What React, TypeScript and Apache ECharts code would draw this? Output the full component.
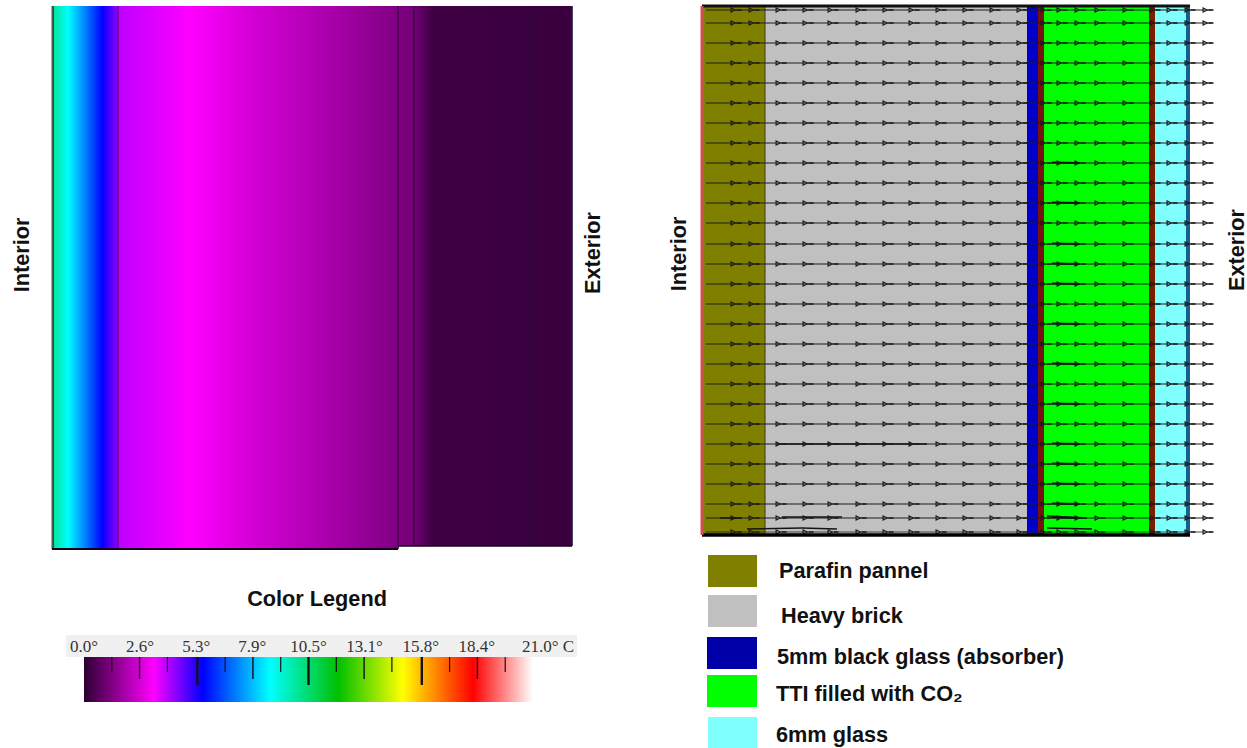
import React, { useEffect, useRef } from "react";
import * as echarts from "echarts";

// ---- temperature colour scale
const scaleTemps = [0, 3.26, 5.56, 8.7, 11.9, 14.9, 18.2, 21];
const scaleColors = ["#2c0030", "#ff00ff", "#0000ff", "#00ffff", "#00c000", "#ffff00", "#ff0000", "#ffffff"];
const tickLabels = ["0.0°", "2.6°", "5.3°", "7.9°", "10.5°", "13.1°", "15.8°", "18.4°", "21.0° C"];
const minorTicks = [1.3, 2.6, 3.9, 5.3, 6.6, 7.9, 9.2, 10.5, 11.8, 13.1, 14.4, 15.8, 17.1, 18.4, 19.7];
const minorTickDepth = [15, 22, 15, 28, 15, 22, 15, 28, 15, 22, 15, 28, 15, 22, 15];

// ---- left panel: temperature through the wall
const wallPos = [1, 16, 50, 66, 66, 138, 200, 260, 346, 362, 380, 520];
const wallTemp = [10, 8.7, 5.56, 4.2, 3.85, 3.26, 2.6, 2.1, 1.3, 1.1, 0.3, 0.2];
const wallFloor = [0, 0, 0, 0, 0, 0, 0, 0, 3, 3, 3, 3];
const wallJoints = [1, 66, 346, 362, 479, 520];

// ---- right panel: layers and flow field
const layerStart = [0, 63, 325, 336, 342, 447, 453, 484];
const layerEnd = [63, 325, 336, 342, 447, 453, 484, 488];
const layerColors = ["#808000", "#c0c0c0", "#0000c8", "#7a1010", "#00ff00", "#7a1e00", "#80ffff", "#14608c"];
const flowRows = [4, 17, 37, 57, 77, 97, 117, 137, 157, 177, 197, 217, 238, 258, 278, 298, 318, 338, 358, 378, 398, 418, 438, 458, 478, 498, 512, 526];
const arrowStations = [34, 52, 79, 106, 131, 159, 186, 212, 239, 266, 293, 320, 344, 360, 378, 398, 426, 453, 470, 488, 506];
const ttiSmearRows = [157, 197, 238, 258, 278, 318, 358, 398, 438, 458, 478, 498, 512];
const lowSmears = [
  [[18, 512], [40, 512]],
  [[75, 438], [225, 438]],
  [[80, 511], [140, 511]],
  [[45, 523], [100, 522]],
  [[100, 522], [135, 523]],
  [[345, 510], [385, 512]],
  [[345, 522], [390, 523]],
];

// ---- legend
const legendNames = ["Parafin pannel", "Heavy brick", "5mm black glass (absorber)", "TTI filled with CO₂", "6mm glass"];
const legendColors = ["#808000", "#c0c0c0", "#0000a8", "#00ff00", "#80ffff"];

function hexToRgb(h: string) {
  return [parseInt(h.slice(1, 3), 16), parseInt(h.slice(3, 5), 16), parseInt(h.slice(5, 7), 16)];
}
function tempColor(t: number) {
  let i = 0;
  while (i < scaleTemps.length - 2 && t > scaleTemps[i + 1]) i++;
  const f = Math.max(0, Math.min(1, (t - scaleTemps[i]) / (scaleTemps[i + 1] - scaleTemps[i])));
  const a = hexToRgb(scaleColors[i]);
  const b = hexToRgb(scaleColors[i + 1]);
  return `rgb(${a.map((v, k) => Math.round(v + (b[k] - v) * f)).join(",")})`;
}

const boldFont = "Liberation Sans";
const ARROW =
  "path://M0 0L6 3L0 6ZM1.2 1.7L1.2 4.3L3.8 3ZM6 2.2L11 2.2L11 3.8L6 3.8Z";

function rectBetween(api: any, x0: number, x1: number, y0: number, y1: number) {
  const a = api.coord([x0, y0]);
  const b = api.coord([x1, y1]);
  return {
    x: Math.min(a[0], b[0]),
    y: Math.min(a[1], b[1]),
    width: Math.abs(b[0] - a[0]),
    height: Math.abs(b[1] - a[1]),
  };
}

function buildOption() {
  const strips = wallPos.slice(0, -1).map((p, i) => [p, wallPos[i + 1], wallTemp[i], wallTemp[i + 1], wallFloor[i]]);
  const series: any[] = [];

  // left panel strips
  series.push({
    type: "custom",
    name: "Wall temperature",
    xAxisIndex: 0,
    yAxisIndex: 0,
    silent: true,
    clip: false,
    data: strips,
    z: 1,
    renderItem: (_: any, api: any) => {
      const r = rectBetween(api, api.value(0), api.value(1), api.value(4), 543);
      return {
        type: "rect",
        shape: { ...r, width: r.width + 0.6 },
        style: {
          fill: new echarts.graphic.LinearGradient(0, 0, 1, 0, [
            { offset: 0, color: tempColor(api.value(2)) },
            { offset: 1, color: tempColor(api.value(3)) },
          ]),
        },
      };
    },
  });
  // left panel joints
  series.push({
    type: "custom",
    name: "Wall joints",
    xAxisIndex: 0,
    yAxisIndex: 0,
    silent: true,
    clip: false,
    data: wallJoints.map((p) => [p]),
    z: 2,
    renderItem: (params: any, api: any) => {
      const x = api.value(0);
      const i = params.dataIndex;
      const floor = x > 346 ? 3 : 0;
      const a = api.coord([x, floor]);
      const b = api.coord([x, 543]);
      const colors = ["#203030", "#401050", "#30052f", "#2a0a2f", "#2a0a30", "#10204c"];
      return {
        type: "line",
        shape: { x1: a[0], y1: a[1], x2: b[0], y2: b[1] },
        style: { stroke: colors[i], lineWidth: i === 0 ? 1.6 : 1 },
      };
    },
  });
  // left panel bottom rules and left pale edge
  series.push({
    type: "line",
    name: "Wall base A",
    xAxisIndex: 0,
    yAxisIndex: 0,
    data: [[0, 0], [346, 0]],
    symbol: "none",
    silent: true,
    clip: false,
    z: 3,
    lineStyle: { color: "#14001c", width: 2 },
  });
  series.push({
    type: "line",
    name: "Wall base B",
    xAxisIndex: 0,
    yAxisIndex: 0,
    data: [[346, 3], [520, 3]],
    symbol: "none",
    silent: true,
    clip: false,
    z: 3,
    lineStyle: { color: "#14001c", width: 1.6 },
  });
  series.push({
    type: "line",
    name: "Wall inner face",
    xAxisIndex: 0,
    yAxisIndex: 0,
    data: [[-0.6, 0], [-0.6, 543]],
    symbol: "none",
    silent: true,
    clip: false,
    z: 3,
    lineStyle: { color: "#d89890", width: 1.2 },
  });

  // right panel layers
  series.push({
    type: "custom",
    name: "Layers",
    xAxisIndex: 1,
    yAxisIndex: 1,
    silent: true,
    clip: false,
    data: layerStart.map((s, i) => [s, layerEnd[i]]),
    z: 1,
    renderItem: (params: any, api: any) => ({
      type: "rect",
      shape: rectBetween(api, api.value(0), api.value(1), 0, 529),
      style: { fill: layerColors[params.dataIndex] },
    }),
  });
  // parafin / brick joint
  series.push({
    type: "line",
    name: "Joint",
    xAxisIndex: 1,
    yAxisIndex: 1,
    data: [[63, 0], [63, 529]],
    symbol: "none",
    silent: true,
    clip: false,
    z: 2,
    lineStyle: { color: "#3a3a20", width: 1 },
  });
  // flow lines
  flowRows.forEach((r, i) => {
    series.push({
      type: "line",
      name: "Flow " + i,
      xAxisIndex: 1,
      yAxisIndex: 1,
      data: [[4, r], [510, r]],
      symbol: "none",
      silent: true,
      clip: false,
      z: 3,
      lineStyle: { color: "#1c1c1c", width: i === flowRows.length - 1 ? 0.8 : 1.2 },
    });
  });
  ttiSmearRows.forEach((r, i) => {
    series.push({
      type: "line",
      name: "TTI smear " + i,
      xAxisIndex: 1,
      yAxisIndex: 1,
      data: [[350, r - 0.5], [378, r]],
      symbol: "none",
      silent: true,
      clip: false,
      z: 3,
      lineStyle: { color: "#141414", width: 2 },
    });
  });
  lowSmears.forEach((d, i) => {
    series.push({
      type: "line",
      name: "Low smear " + i,
      xAxisIndex: 1,
      yAxisIndex: 1,
      data: d,
      symbol: "none",
      silent: true,
      clip: false,
      z: 3,
      lineStyle: { color: "#141414", width: 1.4 },
    });
  });
  // arrows
  const arrowPts: number[][] = [];
  flowRows.forEach((r) => arrowStations.forEach((x) => arrowPts.push([x, r])));
  series.push({
    type: "scatter",
    name: "Flow arrows",
    xAxisIndex: 1,
    yAxisIndex: 1,
    data: arrowPts,
    symbol: ARROW,
    symbolSize: [11, 6],
    silent: true,
    clip: false,
    z: 4,
    itemStyle: { color: "#1a1a1a", opacity: 1 },
  });
  // frame
  const frames: [string, number[][], string, number][] = [
    ["Frame top", [[0, 0], [488, 0]], "#101010", 3],
    ["Frame bottom", [[0, 529], [488, 529]], "#000000", 3.5],
    ["Frame left", [[0, 0], [0, 529]], "#d05050", 3],
  ];
  frames.forEach(([name, data, color, width]) => {
    series.push({
      type: "line",
      name,
      xAxisIndex: 1,
      yAxisIndex: 1,
      data,
      symbol: "none",
      silent: true,
      clip: false,
      z: 5,
      lineStyle: { color, width },
    });
  });

  // colour bar
  series.push({
    type: "custom",
    name: "Colour bar",
    xAxisIndex: 2,
    yAxisIndex: 2,
    silent: true,
    clip: false,
    data: [[0, 21]],
    z: 1,
    renderItem: (_: any, api: any) => ({
      type: "rect",
      shape: rectBetween(api, api.value(0), api.value(1), 0, 45),
      style: {
        fill: new echarts.graphic.LinearGradient(
          0,
          0,
          1,
          0,
          scaleTemps.map((t, i) => ({ offset: t / 21, color: scaleColors[i] }))
        ),
      },
    }),
  });
  series.push({
    type: "custom",
    name: "Colour bar ticks",
    xAxisIndex: 2,
    yAxisIndex: 2,
    silent: true,
    clip: false,
    data: minorTicks.map((t, i) => [t, minorTickDepth[i]]),
    z: 2,
    renderItem: (_: any, api: any) => {
      const a = api.coord([api.value(0), 0]);
      const b = api.coord([api.value(0), api.value(1)]);
      return {
        type: "line",
        shape: { x1: a[0], y1: a[1], x2: b[0], y2: b[1] },
        style: { stroke: "#181018", lineWidth: api.value(1) > 25 ? 2.4 : api.value(1) > 18 ? 1.4 : 1.2 },
      };
    },
  });

  const hiddenX = (min: number, max: number, gridIndex: number) => ({
    type: "value",
    gridIndex,
    min,
    max,
    show: false,
    splitLine: { show: false },
  });
  const hiddenY = (min: number, max: number, gridIndex: number, inverse: boolean) => ({
    type: "value",
    gridIndex,
    min,
    max,
    inverse,
    show: false,
    splitLine: { show: false },
  });

  const wallText = (text: string, x: number, y: number) => ({
    type: "text",
    x,
    y,
    rotation: Math.PI / 2,
    style: {
      text,
      fill: "#111",
      font: `bold 21.7px "${boldFont}"`,
      align: "center",
      verticalAlign: "middle",
    },
  });

  const swatchY = [555, 595, 637, 675, 717];
  const swatchX = [708, 708, 707, 707, 708];
  const swatchH = [32, 32, 32, 32, 31];
  const labelX = [779, 781, 777, 776, 776];
  const labelY = [570, 615, 656, 693, 734];

  return {
    animation: false,
    backgroundColor: "#ffffff",
    grid: [
      { left: 52, top: 6, width: 520, height: 543 },
      { left: 702, top: 6, width: 510, height: 529 },
      { left: 84, top: 657, width: 449, height: 45 },
    ],
    xAxis: [
      hiddenX(0, 520, 0),
      hiddenX(0, 510, 1),
      {
        type: "value",
        gridIndex: 2,
        position: "top",
        min: 0,
        max: 21,
        interval: 2.625,
        axisLine: { show: false },
        axisTick: { show: false },
        splitLine: { show: false },
        axisLabel: {
          show: true,
          showMinLabel: true,
          showMaxLabel: true,
          margin: 2,
          color: "#333",
          fontFamily: "Liberation Serif",
          fontSize: 17,
          formatter: (v: number) => {
            const i = Math.round(v / 2.625);
            return i === tickLabels.length - 1 ? `{last|${tickLabels[i]}}` : tickLabels[i];
          },
          rich: {
            last: { padding: [0, 0, 0, 30], fontFamily: "Liberation Serif", fontSize: 17, color: "#333" },
          },
        },
      },
    ],
    yAxis: [hiddenY(0, 543, 0, false), hiddenY(0, 529, 1, true), hiddenY(0, 45, 2, true)],
    series,
    graphic: [
      {
        type: "rect",
        z: -1,
        silent: true,
        shape: { x: 66, y: 635, width: 511, height: 22 },
        style: { fill: "#f0f0f0" },
      },
      wallText("Interior", 21, 255),
      wallText("Exterior", 592, 253),
      wallText("Interior", 678, 254),
      wallText("Exterior", 1236, 250),
      {
        type: "text",
        x: 317,
        y: 598,
        style: {
          text: "Color Legend",
          fill: "#111",
          font: `bold 21.7px "${boldFont}"`,
          align: "center",
          verticalAlign: "middle",
        },
      },
      ...legendNames.map((name, i) => ({
        type: "text",
        x: labelX[i],
        y: labelY[i],
        style: {
          text: name,
          fill: "#111",
          font: `bold 21.7px "${boldFont}"`,
          align: "left",
          verticalAlign: "middle",
        },
      })),
      ...legendColors.map((c, i) => ({
        type: "rect",
        silent: true,
        shape: { x: swatchX[i], y: swatchY[i], width: 757 - swatchX[i], height: swatchH[i] },
        style: { fill: c },
      })),
    ],
  };
}

export default function App() {
  const ref = useRef<HTMLDivElement>(null);
  useEffect(() => {
    document.body.style.margin = "0";
    const chart = echarts.init(ref.current!, undefined, { renderer: "svg" });
    chart.setOption(buildOption() as any);
    return () => chart.dispose();
  }, []);
  return <div ref={ref} style={{ position: "absolute", left: 0, top: 0, width: 1247, height: 748 }} />;
}
